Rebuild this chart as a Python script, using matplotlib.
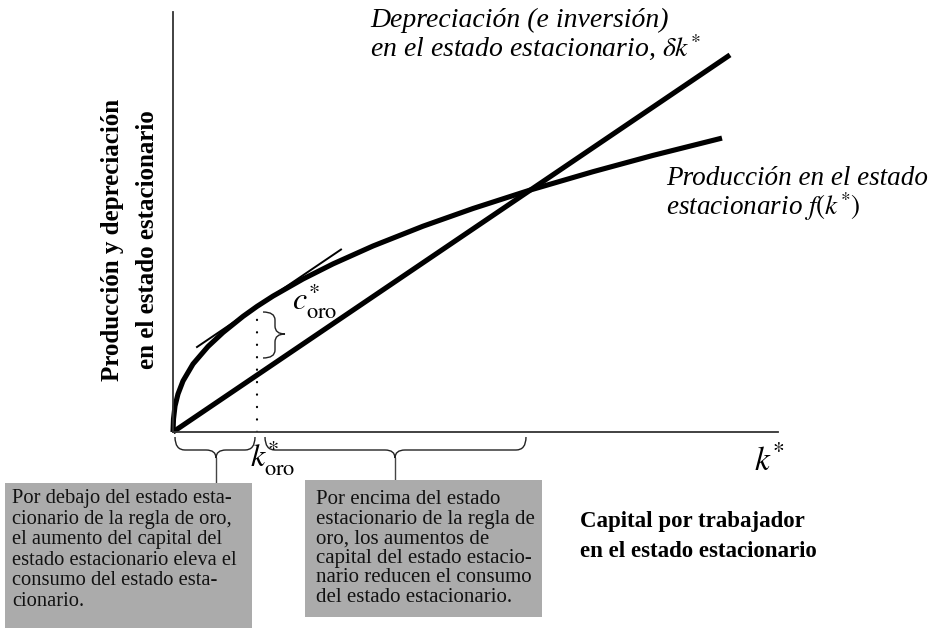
import matplotlib
matplotlib.use("Agg")
import matplotlib.pyplot as plt
from matplotlib.path import Path
from matplotlib.patches import PathPatch, Rectangle

plt.rcParams['mathtext.fontset'] = 'stix'
SERIF = ['Liberation Serif', 'DejaVu Serif']

# ---- data (units: 100 px of the reference picture) ----
k_curve = [0, 0.005, 0.02, 0.05, 0.1, 0.2, 0.35, 0.5, 0.7, 0.84, 1.0, 1.3,
           1.6, 2.0, 2.5, 3.0, 3.57, 4.2, 4.8, 5.49]
f_curve = [0, 0.13, 0.26, 0.38, 0.51, 0.68, 0.855, 0.995, 1.156, 1.256, 1.359,
           1.530, 1.681, 1.860, 2.058, 2.235, 2.419, 2.603, 2.766, 2.939]
delta = 0.677
k_line_end = 5.57
k_oro = 0.84
f_oro = 1.256
tangent_k = [0.24, 1.68]
x_max, y_max = 6.05, 4.20

W, H = 936, 629
fig = plt.figure(figsize=(W / 100, H / 100), dpi=100)
ax = fig.add_axes([173 / W, (H - 432) / H, 605 / W, 420 / H])
ax.set_xlim(0, x_max)
ax.set_ylim(0, y_max)
for s in ['top', 'right']:
    ax.spines[s].set_visible(False)
for s in ['left', 'bottom']:
    ax.spines[s].set_color('#333333')
    ax.spines[s].set_linewidth(1.3)
ax.set_xticks([])
ax.set_yticks([])

# curves
ax.plot(k_curve, f_curve, color='black', lw=3.7, solid_capstyle='butt',
        solid_joinstyle='round', clip_on=False)
ax.plot([0, k_line_end], [0, delta * k_line_end], color='black', lw=3.7,
        solid_capstyle='butt', clip_on=False)
ax.plot(tangent_k, [f_oro + delta * (t - k_oro) for t in tangent_k],
        color='black', lw=1.4, clip_on=False)
ax.plot([k_oro, k_oro], [0, f_oro - 0.06], color='black', lw=1.6,
        linestyle=(0, (0.1, 5.5)), dash_capstyle='round')


def hbrace(x0, x1, xc, y0, ym, yt, r=0.1):
    verts = [(x0, y0), (x0, ym), (x0 + r, ym), (xc - r, ym), (xc, ym), (xc, yt),
             (xc, ym), (xc + r, ym), (x1 - r, ym), (x1, ym), (x1, y0)]
    codes = [Path.MOVETO, Path.CURVE3, Path.CURVE3, Path.LINETO, Path.CURVE3, Path.CURVE3,
             Path.CURVE3, Path.CURVE3, Path.LINETO, Path.CURVE3, Path.CURVE3]
    ax.add_patch(PathPatch(Path(verts, codes), fill=False, lw=1.0,
                           edgecolor='#222222', clip_on=False))


def vbrace(y0, y1, yc, x0, xm, xt, r=0.08):
    verts = [(x0, y0), (xm, y0), (xm, y0 - r), (xm, yc + r), (xm, yc), (xt, yc),
             (xm, yc), (xm, yc - r), (xm, y1 + r), (xm, y1), (x0, y1)]
    codes = [Path.MOVETO, Path.CURVE3, Path.CURVE3, Path.LINETO, Path.CURVE3, Path.CURVE3,
             Path.CURVE3, Path.CURVE3, Path.LINETO, Path.CURVE3, Path.CURVE3]
    ax.add_patch(PathPatch(Path(verts, codes), fill=False, lw=1.0,
                           edgecolor='#222222', clip_on=False))


hbrace(0.02, 0.82, 0.43, -0.05, -0.18, -0.26)
hbrace(0.92, 3.53, 2.22, -0.05, -0.18, -0.26)
ax.plot([0.43, 0.43], [-0.26, -0.50], color='#444444', lw=1.0, clip_on=False)
ax.plot([2.22, 2.22], [-0.26, -0.50], color='#444444', lw=1.0, clip_on=False)
vbrace(1.20, 0.74, 0.98, 0.90, 1.02, 1.12)


def fx(px):
    return px / W


def fy(py):
    return 1 - py / H


# boxes
box_color = '#ababab'
fig.patches.append(Rectangle((fx(5), fy(628)), 247 / W, 145 / H, transform=fig.transFigure,
                             facecolor=box_color, edgecolor='none', zorder=0))
fig.patches.append(Rectangle((fx(305), fy(617)), 237 / W, 137 / H, transform=fig.transFigure,
                             facecolor=box_color, edgecolor='none', zorder=0))

left_lines = ["Por debajo del estado esta-", "cionario de la regla de oro,",
              "el aumento del capital del", "estado estacionario eleva el",
              "consumo del estado esta-", "cionario."]
right_lines = ["Por encima del estado", "estacionario de la regla de",
               "oro, los aumentos de", "capital del estado estacio-",
               "nario reducen el consumo", "del estado estacionario."]
for i, t in enumerate(left_lines):
    fig.text(fx(12), fy(503 + i * 20.6), t, family=SERIF, fontsize=14.8,
             va='baseline', ha='left', color='#111111')
for i, t in enumerate(right_lines):
    fig.text(fx(316), fy(504 + i * 19.6), t, family=SERIF, fontsize=15.0,
             va='baseline', ha='left', color='#111111')

# labels
fig.text(fx(370), fy(27), "Depreciación (e inversión)", family=SERIF, style='italic',
         fontsize=20, va='baseline')
fig.text(fx(370), fy(57), r"en el estado estacionario, $\delta k^{*}$", family=SERIF,
         style='italic', fontsize=20, va='baseline')
fig.text(fx(666), fy(185), "Producción en el estado", family=SERIF, style='italic',
         fontsize=19.5, va='baseline')
fig.text(fx(666), fy(215), r"estacionario $f(k^{*})$", family=SERIF, style='italic',
         fontsize=19.5, va='baseline')

fig.text(fx(113), fy(240), "Producción y depreciación", family=SERIF, weight='bold',
         fontsize=18, rotation=90, ha='center', va='center')
fig.text(fx(147), fy(240), "en el estado estacionario", family=SERIF, weight='bold',
         fontsize=18, rotation=90, ha='center', va='center')

fig.text(fx(580), fy(527), "Capital por trabajador", family=SERIF, weight='bold',
         fontsize=16.5, va='baseline')
fig.text(fx(580), fy(557), "en el estado estacionario", family=SERIF, weight='bold',
         fontsize=16.5, va='baseline')

fig.text(fx(754), fy(470), r"$k^{*}$", fontsize=24, va='baseline')
fig.text(fx(250), fy(467), r"$k^{*}_{\mathrm{oro}}$", fontsize=23, va='baseline')
fig.text(fx(292), fy(310), r"$c^{*}_{\mathrm{oro}}$", fontsize=23, va='baseline')

fig.savefig("out.png", dpi=100, facecolor='white')
